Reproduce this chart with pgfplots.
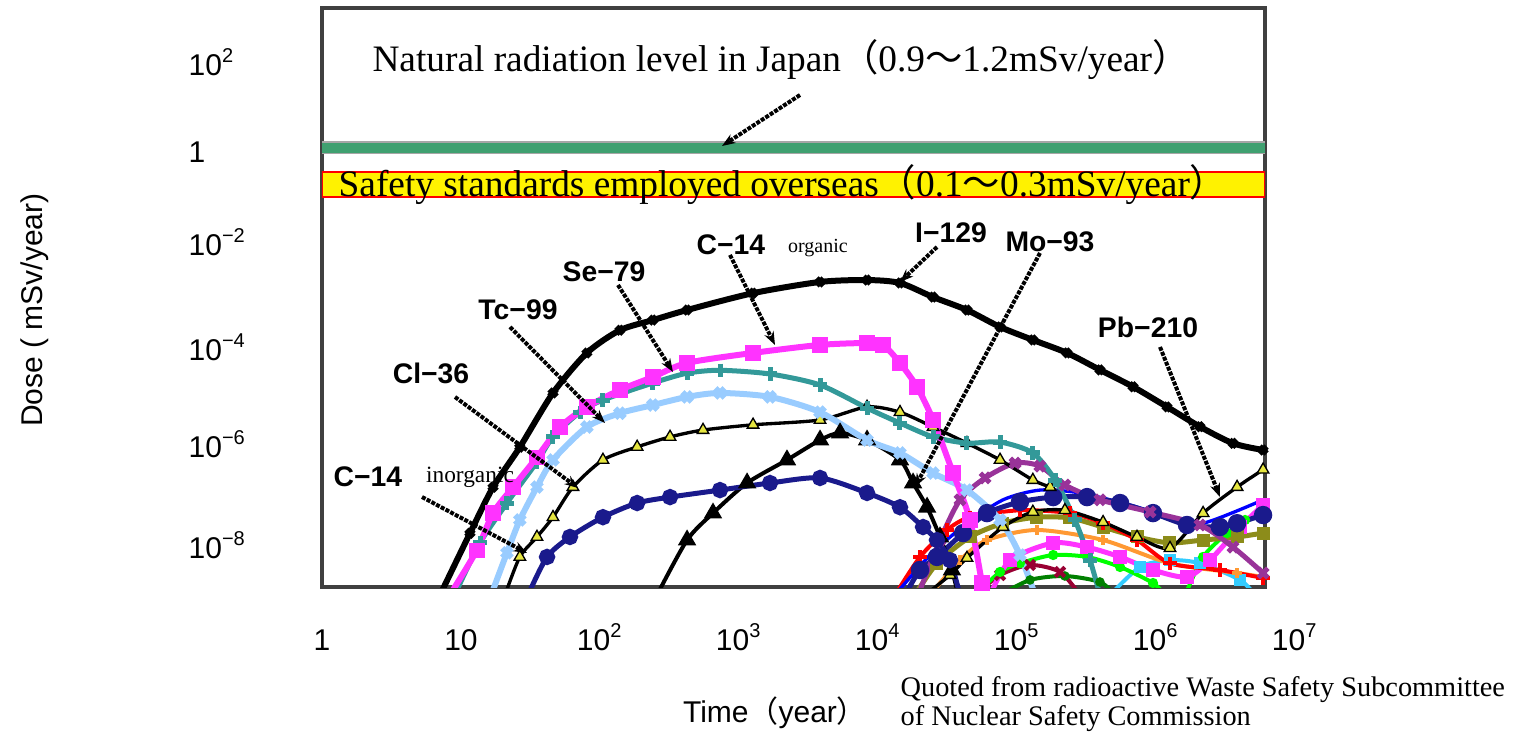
\documentclass[border=0pt]{standalone}
\usepackage{fontspec}
\setmainfont{Liberation Sans}
\newfontfamily\tnr{Liberation Serif}
\newfontfamily\cjk{Noto Sans CJK JP}
\usepackage{pgfplots}
\pgfplotsset{compat=1.18}
\usetikzlibrary{arrows.meta}

\definecolor{bandgreen}{HTML}{3FA070}
\definecolor{cmag}{HTML}{FF33FF}
\definecolor{cteal}{HTML}{339999}
\definecolor{clblue}{HTML}{99CCFF}
\definecolor{cnavy}{HTML}{1A1A8C}
\definecolor{cyell}{HTML}{E6E640}
\definecolor{cpurple}{HTML}{993399}
\definecolor{colive}{HTML}{8C8C1A}
\definecolor{corange}{HTML}{FF9933}
\definecolor{ccyan}{HTML}{33CCFF}
\definecolor{ccrim}{HTML}{990033}

\begin{document}
\begin{tikzpicture}
\begin{axis}[
    scale only axis, width=282.9pt, height=173.7pt,
    xmode=log, ymode=log,
    xmin=1, xmax=6.08e6, ymin=1e-9, ymax=1e3,
    axis line style={line width=1.3pt, black!75},
    major tick length=0pt, minor tick length=0pt,
    xtick={1,10,100,1000,10000,100000,1000000},
    xticklabels={1,10,10\textsuperscript{2},10\textsuperscript{3},10\textsuperscript{4},10\textsuperscript{5},10\textsuperscript{6}},
    ytick={76,1.04,0.0141,9.4e-5,9.2e-7,7.4e-9},
    yticklabels={10\textsuperscript{2},1,10\textsuperscript{−2},10\textsuperscript{−4},10\textsuperscript{−6},10\textsuperscript{−8}},
    ticklabel style={font=\fontsize{9}{10}\selectfont},
    xticklabel style={anchor=base, inner sep=0pt, yshift=-18.9pt},
    yticklabel style={anchor=west, inner sep=0pt, xshift=-40.2pt},
    xlabel={Time{\cjk （}year{\cjk ）}},
    ylabel={Dose ( mSv/year)},
    xlabel style={at={(axis description cs:0.4804,-0.2176)}, anchor=center, font=\fontsize{9}{10}\selectfont},
    ylabel style={at={(axis description cs:-0.3043,0.4784)}, anchor=center, font=\fontsize{9}{10}\selectfont},
    every axis plot/.append style={smooth, tension=0.45},
]
\coordinate (O) at (rel axis cs:0,0);

% natural radiation band and overseas safety standards
\addplot[black!35, line width=4pt, sharp plot] coordinates {(1,1.28)(6.08e6,1.28)};
\addplot[bandgreen, line width=3pt, sharp plot] coordinates {(1,1.28)(6.08e6,1.28)};
\addplot[fill=yellow, draw=red, line width=0.8pt, sharp plot] coordinates {(1,0.121)(6.08e6,0.121)(6.08e6,0.40)(1,0.40)} -- cycle;

% late-time nuclides (bottom right)
\addplot[green!50!black, line width=1.2pt, mark=*, mark size=0.8pt] coordinates {(75510,6.8e-10)(1.24e5,1.40e-9)(2.21e5,1.69e-9)(3.95e5,1.27e-9)(5.07e5,6.8e-10)};
\addplot[ccrim, line width=1.2pt, mark=x, mark size=2pt] coordinates {(49890,6.8e-10)(75510,1.77e-9)(1.24e5,2.86e-9)(2.04e5,2.05e-9)(2.84e5,6.8e-10)};
\addplot[ccyan, line width=1.2pt, mark=square*, mark size=1.2pt] coordinates {(4.67e5,6.8e-10)(7.67e5,2.6e-9)(1.26e6,3.6e-9)(2.07e6,3.1e-9)(4.02e6,1.40e-9)(5.15e6,6.8e-10)};
\addplot[green, line width=1.2pt, mark=*, mark size=0.9pt] coordinates {(49890,6.8e-10)(75510,2.05e-9)(1.05e5,3.1e-9)(1.82e5,4.6e-9)(3.19e5,4.2e-9)(5.51e5,2.6e-9)(9.51e5,1.21e-9)(1.16e6,6.8e-10)};
\addplot[green, line width=1.2pt, mark=*, mark size=0.9pt] coordinates {(1.62e6,6.8e-10)(2.18e6,4.2e-9)(3.24e6,1.31e-8)(4.37e6,2.45e-8)};
\addplot[corange, line width=1.2pt, mark=+, mark size=1.5pt] coordinates {(23660,6.8e-10)(38900,3.6e-9)(60810,9.4e-9)(1.39e5,1.52e-8)(4.16e5,9.4e-9)(1.26e6,3.1e-9)(3.83e6,1.95e-9)(5.89e6,1.61e-9)};
\addplot[cmag, line width=1.5pt, mark=square*, mark size=1.4pt] coordinates {(63970,6.8e-10)(89130,3.6e-9)(1.82e5,8.2e-9)(3.19e5,6.7e-9)(5.51e5,4.2e-9)(9.51e5,2.25e-9)(1.67e6,1.61e-9)(2.44e6,3.6e-9)(4.02e6,1.75e-8)(5.89e6,5.0e-8)};
\addplot[colive, line width=1.5pt, mark=square*, mark size=1.2pt] coordinates {(18450,6.8e-10)(26550,3.1e-9)(45920,1.09e-8)(79250,2.1e-8)(1.39e5,2.8e-8)(2.40e5,2.7e-8)(4.16e5,1.75e-8)(7.30e5,1.09e-8)(1.26e6,8.2e-9)(2.18e6,9.4e-9)(3.83e6,1.09e-8)(5.89e6,1.31e-8)};
\addplot[red, line width=1.2pt, mark=+, mark size=2pt] coordinates {(13250,6.8e-10)(20040,4.2e-9)(31330,1.52e-8)(45920,2.8e-8)(1.05e5,3.9e-8)(2.40e5,3.4e-8)(4.16e5,2.1e-8)(7.30e5,9.4e-9)(1.26e6,3.1e-9)(2.88e6,2.25e-9)(5.89e6,1.54e-9)};
\addplot[blue, line width=1pt] coordinates {(13250,6.8e-10)(23660,4.6e-9)(42270,1.93e-8)(79250,6.4e-8)(1.46e5,1.02e-7)(2.84e5,8.9e-8)(6.50e5,5.0e-8)(1.26e6,2.8e-8)(2.18e6,2.1e-8)(5.89e6,6.4e-8)};
\addplot[cnavy, line width=1.5pt, mark=*, mark size=2pt] coordinates {(15630,6.8e-10)(20040,2.25e-9)(26550,4.2e-9)(40930,1.31e-8)(60810,3.4e-8)(1.05e5,5.8e-8)(1.82e5,7.3e-8)(3.19e5,7.3e-8)(5.51e5,5.5e-8)(9.51e5,3.4e-8)(1.67e6,1.93e-8)(2.88e6,1.75e-8)(3.83e6,2.1e-8)(5.89e6,3.1e-8)};
\addplot[cpurple, line width=1.5pt, mark=x, mark size=2pt] coordinates {(19410,6.8e-10)(27920,9.4e-9)(38900,6.4e-8)(58880,1.82e-7)(96830,3.7e-7)(1.46e5,3.2e-7)(2.21e5,1.30e-7)(3.95e5,6.4e-8)(9.06e5,3.6e-8)(2.07e6,1.93e-8)(3.58e6,6.7e-9)(5.89e6,1.95e-9)};
% Pb-210
\addplot[black, line width=1pt, mark=triangle*, mark size=2pt, mark options={fill=cyell, draw=black, line width=0.4pt}] coordinates {(21790,6.8e-10)(32960,1.77e-9)(43650,4.0e-9)(79250,1.75e-8)(1.30e5,3.6e-8)(2.21e5,3.9e-8)(4.16e5,2.2e-8)(7.30e5,1.09e-8)(1.26e6,6.4e-9)(2.18e6,3.4e-8)(3.83e6,1.18e-7)(5.89e6,2.7e-7)};

% earlier nuclides
% Mo-93
\addplot[black, line width=1.2pt, mark=triangle*, mark size=2pt] coordinates {(257,6.8e-10)(423,9.4e-9)(650,3.4e-8)(1143,1.43e-7)(2213,4.3e-7)(3828,1.11e-6)(5333,1.56e-6)(8337,1.11e-6)(14390,4.3e-7)(17870,1.43e-7)(22540,4.5e-8)(27920,1.09e-8)(34040,2.25e-9)(37670,6.8e-10)};
% C-14 inorganic
\addplot[cnavy, line width=1.5pt, mark=*, mark size=1.7pt] coordinates {(30.3,6.8e-10)(41.6,4.2e-9)(60.8,1.09e-8)(105,2.8e-8)(185,5.5e-8)(319,7.3e-8)(730,1.02e-7)(1671,1.43e-7)(3828,1.82e-7)(8337,8.9e-8)(14390,4.5e-8)(21090,1.75e-8)(26550,9.4e-9)(32960,3.6e-9)(38900,6.8e-10)};
% Cl-36
\addplot[black, line width=1pt, mark=triangle*, mark size=2pt, mark options={fill=cyell, draw=black, line width=0.4pt}] coordinates {(20.7,6.8e-10)(26.5,4.2e-9)(35.2,1.09e-8)(45.9,2.8e-8)(63.9,1.18e-7)(105,4.3e-7)(185,8.0e-7)(319,1.29e-6)(551,1.79e-6)(1262,2.3e-6)(3828,2.9e-6)(8337,5.4e-6)(14390,4.2e-6)(24890,2.07e-6)(43650,9.6e-7)(75510,4.3e-7)(1.30e5,1.65e-7)(1.73e5,1.18e-7)};
% Tc-99
\addplot[clblue, line width=1.8pt, mark=x, mark size=2pt] coordinates {(17.0,8.7e-10)(21.4,5.1e-9)(26.5,2.45e-8)(35.2,1.18e-7)(45.9,4.3e-7)(80.5,2.07e-6)(139,4.0e-6)(240,5.9e-6)(423,8.7e-6)(730,1.05e-5)(1671,8.7e-6)(3828,4.2e-6)(8337,1.11e-6)(14390,6.0e-7)(24890,2.3e-7)(43650,1.02e-7)(75510,2.45e-8)(1.05e5,4.6e-9)(1.35e5,6.8e-10)};
% Se-79
\addplot[cteal, line width=1.5pt, mark=+, mark size=2pt] coordinates {(9.36,8.7e-10)(13.7,8.2e-9)(21.4,5.5e-8)(35.2,3.9e-7)(45.9,1.29e-6)(71.8,4.2e-6)(105,7.5e-6)(240,1.69e-5)(423,2.7e-5)(730,3.1e-5)(1671,2.6e-5)(3828,1.54e-5)(8337,5.1e-6)(14390,2.5e-6)(24890,1.29e-6)(43650,9.6e-7)(75510,1.01e-6)(1.30e5,6.0e-7)(1.88e5,1.65e-7)(2.61e5,2.45e-8)(3.35e5,3.6e-9)(3.95e5,6.8e-10)};
% C-14 organic
\addplot[cmag, line width=1.8pt, mark=square*, mark size=1.4pt] coordinates {(8.76,8.7e-10)(13.0,5.8e-9)(17.0,3.4e-8)(23.7,1.18e-7)(35.2,4.9e-7)(51.6,2.07e-6)(80.5,5.4e-6)(139,1.21e-5)(240,2.25e-5)(423,4.4e-5)(1262,7.1e-5)(3828,1.04e-4)(8337,1.14e-4)(10870,1.04e-4)(14390,4.4e-5)(19090,1.40e-5)(24890,2.9e-6)(34670,2.3e-7)(45920,2.45e-8)(55980,1.21e-9)(58880,6.8e-10)};
% I-129
\addplot[black, line width=1.8pt, mark=x, mark size=1.5pt] coordinates {(7.06,6.8e-10)(11.6,1.3e-8)(17.0,1.17e-7)(26.5,7.9e-7)(45.9,1.05e-5)(80.5,7.1e-5)(139,2.1e-4)(240,3.4e-4)(423,5.5e-4)(1262,1.23e-3)(3828,2.1e-3)(8337,2.3e-3)(14390,2.0e-3)(24890,1.02e-3)(43650,5.5e-4)(75510,2.45e-4)(1.30e5,1.32e-4)(2.29e5,7.1e-5)(3.95e5,3.16e-5)(6.84e5,1.41e-5)(1.20e6,5.4e-6)(2.07e6,2.1e-6)(3.58e6,9.5e-7)(5.89e6,6.9e-7)};
\end{axis}

% annotations, placed in pixel units of the reference (y downwards)
\begin{scope}[shift={(O)}, x=0.3pt, y=-0.3pt, shift={(-322,-587)}]
\path (0,0) rectangle (1522,733);
\node[anchor=base, inner sep=0pt, font=\fontsize{9}{10}\selectfont] at (1295,650) {10\textsuperscript{7}};

\node[font=\tnr\fontsize{11.2}{12}\selectfont] at (781,60) {Natural radiation level in Japan{\cjk （}0.9{\cjk ～}1.2mSv/year{\cjk ）}};
\node[font=\tnr\fontsize{11.2}{12}\selectfont] at (783,185) {Safety standards employed overseas{\cjk （}0.1{\cjk ～}0.3mSv/year{\cjk ）}};

\node[anchor=base west, inner sep=0pt, font=\tnr\fontsize{8.5}{9}\selectfont] at (900,696) {Quoted from radioactive Waste Safety Subcommittee};
\node[anchor=base west, inner sep=0pt, font=\tnr\fontsize{8.5}{9}\selectfont] at (900,726) {of Nuclear Safety Commission};

\begin{scope}[font=\bfseries\fontsize{8.5}{9}\selectfont]
\node at (731,245) {C−14};
\node at (604,272) {Se−79};
\node at (518,310) {Tc−99};
\node at (431,373) {Cl−36};
\node at (368,477) {C−14};
\node at (951,233) {I−129};
\node at (1050,242) {Mo−93};
\node at (1148,327) {Pb−210};
\end{scope}
\node[font=\tnr\fontsize{6}{7}\selectfont] at (818,248) {organic};
\node[font=\tnr\fontsize{7}{8}\selectfont] at (470,477) {inorganic};

\begin{scope}[black, line width=1.2pt, dash pattern=on 1.2pt off 0.4pt, -{Stealth[length=4pt, width=3pt]}]
\draw (800,95) -- (722,146);
\draw (730,255) -- (775,345);
\draw (618,285) -- (673,372);
\draw (510,327) -- (605,423);
\draw (455,397) -- (578,488);
\draw (422,497) -- (527,553);
\draw (937,247) -- (900,282);
\draw (1040,253) -- (915,487);
\draw (1160,347) -- (1220,497);
\end{scope}
\end{scope}
\end{tikzpicture}
\end{document}
